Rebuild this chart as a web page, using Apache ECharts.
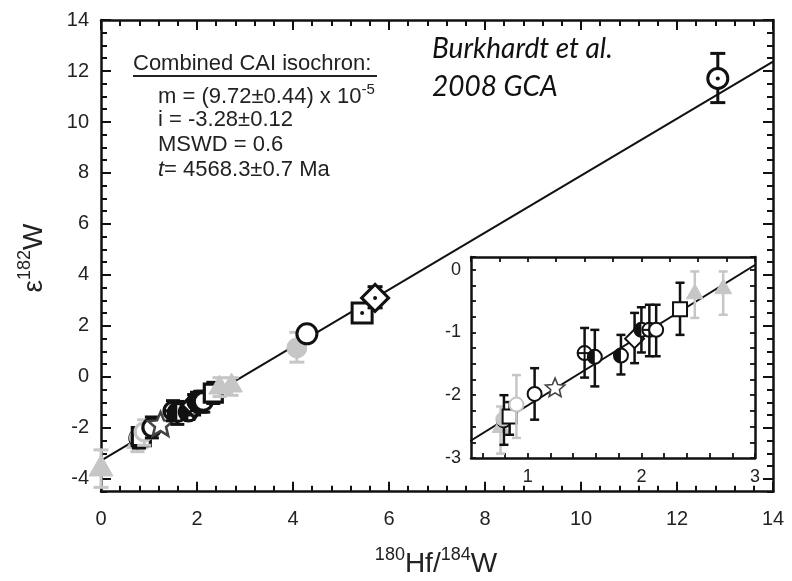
<!DOCTYPE html>
<html>
<head>
<meta charset="utf-8">
<script src="https://cdn.jsdelivr.net/npm/echarts@6/dist/echarts.min.js"></script>
<style>html,body{margin:0;padding:0;background:#fff}#c{width:792px;height:581px}</style>
</head>
<body>
<div id="c"></div>
<script>
// ---- data ----
// CAI fractions plotted in both the main plot and the inset
const caiX   = [0.76, 0.79, 0.78, 0.84, 0.90, 1.06, 1.24, 1.50, 1.59, 1.82, 1.94, 2.00, 2.07, 2.13, 2.34, 2.47, 2.72];
const caiY   = [-2.50, -2.40, -2.38, -2.34, -2.15, -1.98, -1.89, -1.33, -1.39, -1.37, -1.10, -0.96, -0.96, -0.96, -0.63, -0.37, -0.29];
const caiLo  = [-2.93, -2.79, -2.38, -2.63, -2.68, -2.39, -1.89, -1.72, -1.86, -1.67, -1.49, -1.32, -1.38, -1.38, -1.04, -0.77, -0.72];
const caiHi  = [-2.18, -2.00, -2.38, -2.11, -1.68, -1.57, -1.89, -0.93, -0.96, -1.04, -0.69, -0.60, -0.56, -0.56, -0.21, -0.03, -0.03];
const caiSymbol = ['triGray','circle','dotGray','square','ringGray','circle','star','crossCircle','halfCircle','halfCircle','diamond','halfCircle','crossCircle','circle','square','triGray','triGray'];
// additional fractions visible only in the main plot
const extraX  = [0.00, 4.08, 4.29, 5.44, 5.71, 12.85];
const extraY  = [-3.55, 1.14, 1.69, 2.51, 3.10, 11.71];
const extraLo = [-4.33, 0.58, 1.45, 2.30, 2.71, 10.76];
const extraHi = [-2.86, 1.75, 1.93, 2.72, 3.54, 12.69];
const extraSymbol = ['triGray','dotGray','circle','dotSquare','dotDiamond','dotCircle'];
// isochron regression line end points
const isoX = [0, 14];
const isoY = [-3.28, 12.37];
// tick labels
const mainXTicks = [0, 2, 4, 6, 8, 10, 12, 14];
const mainYTicks = [-4, -2, 0, 2, 4, 6, 8, 10, 12, 14];
const insetXTicks = [1, 2, 3];
const insetYTicks = [-3, -2, -1, 0];
const insetXMinor = [0.6, 0.8, 1.0, 1.2, 1.4, 1.6, 1.8, 2.0, 2.2, 2.4, 2.6, 2.8, 3.0];

// ---- drawing ----
const GRAY = '#c6c6c6';
const INK = '#111';
const FONT = '"Liberation Sans", Arial, sans-serif';

function markerEls(shp, cx, cy, r, lw) {
  const els = [];
  const ws = {fill: '#fff', stroke: INK, lineWidth: lw};
  const dot = () => els.push({type: 'circle', shape: {cx, cy, r: Math.max(1.6, r * 0.2)}, style: {fill: INK}});
  switch (shp) {
    case 'triGray':
      els.push({type: 'polygon', shape: {points: [[cx, cy - 1.25 * r], [cx + 1.2 * r, cy + 0.85 * r], [cx - 1.2 * r, cy + 0.85 * r]]}, style: {fill: GRAY, stroke: GRAY, lineWidth: 1}});
      break;
    case 'dotGray':
      els.push({type: 'circle', shape: {cx, cy, r}, style: {fill: GRAY, stroke: GRAY, lineWidth: 1}});
      break;
    case 'ringGray':
      els.push({type: 'circle', shape: {cx, cy, r}, style: {fill: '#fff', stroke: GRAY, lineWidth: lw}});
      break;
    case 'circle':
    case 'dotCircle':
      els.push({type: 'circle', shape: {cx, cy, r}, style: ws});
      if (shp === 'dotCircle') dot();
      break;
    case 'crossCircle':
      els.push({type: 'circle', shape: {cx, cy, r}, style: ws});
      els.push({type: 'line', shape: {x1: cx - r, y1: cy, x2: cx + r, y2: cy}, style: {stroke: INK, lineWidth: lw}});
      els.push({type: 'line', shape: {x1: cx, y1: cy - r, x2: cx, y2: cy + r}, style: {stroke: INK, lineWidth: lw}});
      break;
    case 'halfCircle': {
      els.push({type: 'circle', shape: {cx, cy, r}, style: {fill: '#fff'}});
      const pts = [];
      for (let i = 0; i <= 16; i++) {
        const a = Math.PI / 2 + Math.PI * i / 16;
        pts.push([cx + r * Math.cos(a), cy + r * Math.sin(a)]);
      }
      els.push({type: 'polygon', shape: {points: pts}, style: {fill: INK}});
      els.push({type: 'circle', shape: {cx, cy, r}, style: {fill: null, stroke: INK, lineWidth: lw}});
      break;
    }
    case 'square':
    case 'dotSquare': {
      const h = r * 1.0;
      els.push({type: 'rect', shape: {x: cx - h, y: cy - h, width: 2 * h, height: 2 * h}, style: ws});
      if (shp === 'dotSquare') dot();
      break;
    }
    case 'diamond':
    case 'dotDiamond': {
      const d = r * 1.35;
      els.push({type: 'polygon', shape: {points: [[cx, cy - d], [cx + d, cy], [cx, cy + d], [cx - d, cy]]}, style: ws});
      if (shp === 'dotDiamond') dot();
      break;
    }
    case 'star': {
      const R = r * 1.45, ri = R * 0.45, pts = [];
      for (let i = 0; i < 10; i++) {
        const a = -Math.PI / 2 + Math.PI * i / 5;
        const rr = i % 2 === 0 ? R : ri;
        pts.push([cx + rr * Math.cos(a), cy + rr * Math.sin(a)]);
      }
      els.push({type: 'polygon', shape: {points: pts}, style: {fill: '#fff', stroke: '#444', lineWidth: lw * 0.8}});
      break;
    }
  }
  return els;
}

function makeRender(symbols, sc) {
  return function (params, api) {
    const x = api.value(0), y = api.value(1), lo = api.value(2), hi = api.value(3);
    const c = api.coord([x, y]);
    const pLo = api.coord([x, lo]);
    const pHi = api.coord([x, hi]);
    const shp = symbols[params.dataIndex];
    const col = shp.indexOf('Gray') >= 0 ? GRAY : INK;
    const children = [];
    if (hi !== lo) {
      const es = {stroke: col, lineWidth: sc.elw};
      children.push({type: 'line', shape: {x1: c[0], y1: pLo[1], x2: c[0], y2: pHi[1]}, style: es});
      children.push({type: 'line', shape: {x1: c[0] - sc.cap, y1: pLo[1], x2: c[0] + sc.cap, y2: pLo[1]}, style: es});
      children.push({type: 'line', shape: {x1: c[0] - sc.cap, y1: pHi[1], x2: c[0] + sc.cap, y2: pHi[1]}, style: es});
    }
    markerEls(shp, c[0], c[1], sc.r, sc.lw).forEach(e => children.push(e));
    return {type: 'group', children};
  };
}

const caiData = caiX.map((x, i) => [x, caiY[i], caiLo[i], caiHi[i]]);
const extraData = extraX.map((x, i) => [x, extraY[i], extraLo[i], extraHi[i]]);
const isoData = isoX.map((x, i) => [x, isoY[i]]);

const axisLineStyle = {show: true, onZero: false, lineStyle: {color: INK, width: 2.5}};
const mainLabel = {fontFamily: FONT, fontSize: 20, color: '#222'};
const insetLabel = {fontFamily: FONT, fontSize: 18, color: '#222'};

function mainX(pos, labels) {
  return {
    type: 'value', gridIndex: 0, position: pos, min: 0, max: 14, interval: 2,
    axisLine: axisLineStyle, splitLine: {show: false},
    axisTick: {show: true, inside: true, length: 10, lineStyle: {color: INK, width: 2}},
    minorTick: {show: true, splitNumber: 5, length: 6, lineStyle: {color: INK, width: 2}},
    axisLabel: labels ? Object.assign({show: true, margin: 18, customValues: mainXTicks}, mainLabel) : {show: false}
  };
}
function mainY(pos, major, labels) {
  return {
    type: 'value', gridIndex: 0, position: pos, min: -4.5, max: 14, interval: 0.5,
    axisLine: major ? {show: false, onZero: false} : axisLineStyle, splitLine: {show: false},
    axisTick: major ? {show: true, inside: true, length: 10, customValues: mainYTicks, lineStyle: {color: INK, width: 2}}
                    : {show: true, inside: true, length: 6, lineStyle: {color: INK, width: 2}},
    axisLabel: labels ? Object.assign({show: true, margin: 12, customValues: mainYTicks}, mainLabel) : {show: false}
  };
}

const option = {
  animation: false,
  backgroundColor: '#fff',
  grid: [
    {left: 101, top: 20, width: 672, height: 471.7, containLabel: false},
    {left: 471, top: 257, width: 284, height: 201, containLabel: false, show: true, backgroundColor: '#fff', borderWidth: 0, z: 5}
  ],
  xAxis: [
    mainX('bottom', true),
    mainX('top', false),
    {
      type: 'value', gridIndex: 1, position: 'bottom', min: 0.5, max: 3, interval: 0.25, z: 6,
      axisLine: axisLineStyle, splitLine: {show: false},
      axisTick: {show: true, inside: true, length: 5, customValues: insetXMinor, lineStyle: {color: INK, width: 1.8}},
      axisLabel: Object.assign({show: true, margin: 10, customValues: insetXTicks}, insetLabel)
    },
    {
      type: 'value', gridIndex: 1, position: 'top', min: 0.5, max: 3, interval: 0.25, z: 6,
      axisLine: axisLineStyle, splitLine: {show: false},
      axisTick: {show: true, inside: true, length: 5, lineStyle: {color: INK, width: 1.8}},
      axisLabel: {show: false}
    }
  ],
  yAxis: [
    mainY('left', false, true),
    mainY('left', true, false),
    mainY('right', false, false),
    mainY('right', true, false),
    {
      type: 'value', gridIndex: 1, position: 'left', min: -3, max: 0.2, interval: 0.25, z: 6,
      axisLine: axisLineStyle, splitLine: {show: false},
      axisTick: {show: true, inside: true, length: 5, lineStyle: {color: INK, width: 1.8}},
      axisLabel: Object.assign({show: true, margin: 10, customValues: insetYTicks}, insetLabel)
    },
    {
      type: 'value', gridIndex: 1, position: 'right', min: -3, max: 0.2, interval: 0.25, z: 6,
      axisLine: axisLineStyle, splitLine: {show: false},
      axisTick: {show: true, inside: true, length: 5, lineStyle: {color: INK, width: 1.8}},
      axisLabel: {show: false}
    }
  ],
  series: [
    {type: 'line', xAxisIndex: 0, yAxisIndex: 0, data: isoData, symbol: 'none', z: 2,
     lineStyle: {color: INK, width: 2}},
    {type: 'custom', xAxisIndex: 0, yAxisIndex: 0, data: caiData, z: 3, clip: false,
     encode: {x: 0, y: 1}, renderItem: makeRender(caiSymbol, {r: 9, lw: 3.2, cap: 7, elw: 3})},
    {type: 'custom', xAxisIndex: 0, yAxisIndex: 0, data: extraData, z: 3, clip: false,
     encode: {x: 0, y: 1}, renderItem: makeRender(extraSymbol, {r: 10, lw: 3, cap: 7.5, elw: 3})},
    {type: 'line', xAxisIndex: 2, yAxisIndex: 4, data: isoData, symbol: 'none', z: 7, clip: true,
     lineStyle: {color: INK, width: 2}},
    {type: 'custom', xAxisIndex: 2, yAxisIndex: 4, data: caiData, z: 8, clip: true,
     encode: {x: 0, y: 1}, renderItem: makeRender(caiSymbol, {r: 7, lw: 2, cap: 4.5, elw: 2.5})}
  ],
  graphic: [
    {type: 'text', x: 133, y: 64, z: 10, style: {text: 'Combined CAI isochron:', font: '22px ' + FONT, fill: '#222', verticalAlign: 'middle'}},
    {type: 'line', z: 10, shape: {x1: 133, y1: 76, x2: 377, y2: 76}, style: {stroke: '#222', lineWidth: 2}},
    {type: 'text', x: 158, y: 95, z: 10, style: {text: '{n|m = (9.72±0.44) x 10}{s|-5}', verticalAlign: 'middle', fill: '#222',
      rich: {n: {fontFamily: FONT, fontSize: 22, lineHeight: 26, verticalAlign: 'bottom'}, s: {fontFamily: FONT, fontSize: 15, lineHeight: 16, verticalAlign: 'top'}}}},
    {type: 'text', x: 158, y: 120, z: 10, style: {text: 'i = -3.28±0.12', font: '22px ' + FONT, fill: '#222', verticalAlign: 'middle'}},
    {type: 'text', x: 158, y: 145, z: 10, style: {text: 'MSWD = 0.6', font: '22px ' + FONT, fill: '#222', verticalAlign: 'middle'}},
    {type: 'text', x: 158, y: 170, z: 10, style: {text: '{i|t}{n|= 4568.3±0.7 Ma}', verticalAlign: 'middle', fill: '#222',
      rich: {i: {fontFamily: FONT, fontSize: 22, fontStyle: 'italic'}, n: {fontFamily: FONT, fontSize: 22}}}},
    {type: 'text', x: 432, y: 49, z: 10, style: {text: 'Burkhardt et al.', font: 'italic 28px Lato, "Open Sans", sans-serif', fill: '#111', verticalAlign: 'middle'}},
    {type: 'text', x: 432, y: 87, z: 10, style: {text: '2008 GCA', font: 'italic 28px Lato, "Open Sans", sans-serif', fill: '#111', verticalAlign: 'middle'}},
    {type: 'text', x: 436, y: 562, z: 10, style: {text: '{s|180}{n|Hf/}{s|184}{n|W}', align: 'center', verticalAlign: 'middle', fill: '#222',
      rich: {n: {fontFamily: FONT, fontSize: 28, lineHeight: 32, verticalAlign: 'bottom'}, s: {fontFamily: FONT, fontSize: 18, lineHeight: 20, verticalAlign: 'top'}}}},
    {type: 'text', x: 32, y: 258, rotation: Math.PI / 2, z: 10, style: {text: '{n|ε}{s|182}{n|W}', align: 'center', verticalAlign: 'middle', fill: '#222',
      rich: {n: {fontFamily: FONT, fontSize: 28, lineHeight: 32, verticalAlign: 'bottom'}, s: {fontFamily: FONT, fontSize: 18, lineHeight: 20, verticalAlign: 'top'}}}}
  ]
};

const chart = echarts.init(document.getElementById('c'), null, {renderer: 'canvas'});
chart.setOption(option);
</script>
</body>
</html>
